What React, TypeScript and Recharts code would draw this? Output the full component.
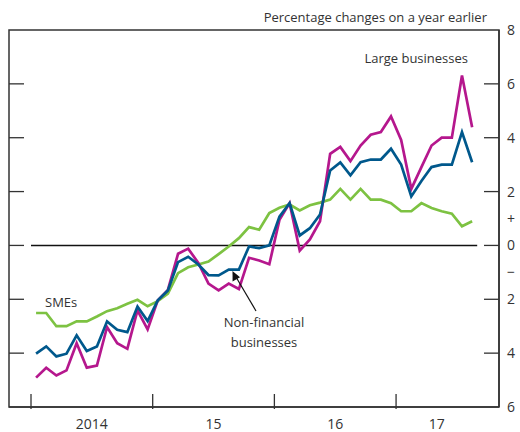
import { LineChart, Line, XAxis, YAxis, ReferenceLine, ReferenceArea } from 'recharts'

// monthly, Jan 2014 – Aug 2017 (percentage changes on a year earlier)
const months = [
	'2014-01', '2014-02', '2014-03', '2014-04', '2014-05', '2014-06', '2014-07', '2014-08', '2014-09', '2014-10', '2014-11', '2014-12',
	'2015-01', '2015-02', '2015-03', '2015-04', '2015-05', '2015-06', '2015-07', '2015-08', '2015-09', '2015-10', '2015-11', '2015-12',
	'2016-01', '2016-02', '2016-03', '2016-04', '2016-05', '2016-06', '2016-07', '2016-08', '2016-09', '2016-10', '2016-11', '2016-12',
	'2017-01', '2017-02', '2017-03', '2017-04', '2017-05', '2017-06', '2017-07', '2017-08',
]

const smes = [
	-2.51, -2.51, -3.0, -3.0, -2.82, -2.82, -2.64, -2.44, -2.33, -2.17, -2.02, -2.26,
	-2.07, -1.79, -1.03, -0.81, -0.71, -0.6, -0.32, -0.04, 0.27, 0.68, 0.58, 1.2,
	1.4, 1.52, 1.3, 1.49, 1.59, 1.7, 2.1, 1.7, 2.1, 1.7, 1.7, 1.57,
	1.27, 1.27, 1.57, 1.39, 1.27, 1.18, 0.71, 0.9,
]

const nonFinancial = [
	-4.02, -3.75, -4.12, -4.02, -3.34, -3.92, -3.75, -2.82, -3.13, -3.22, -2.27, -2.81,
	-2.04, -1.67, -0.62, -0.42, -0.71, -1.1, -1.11, -0.9, -0.9, -0.04, -0.1, 0.0,
	1.07, 1.57, 0.37, 0.64, 1.15, 2.78, 3.08, 2.6, 3.09, 3.19, 3.19, 3.59,
	3.0, 1.82, 2.39, 2.91, 3.0, 3.0, 4.21, 3.09,
]

const large = [
	-4.91, -4.54, -4.83, -4.64, -3.63, -4.54, -4.46, -3.03, -3.63, -3.84, -2.41, -3.12,
	-2.04, -1.65, -0.31, -0.12, -0.65, -1.42, -1.67, -1.42, -1.62, -0.46, -0.56, -0.7,
	0.95, 1.57, -0.19, 0.22, 0.9, 3.4, 3.66, 3.13, 3.71, 4.11, 4.21, 4.79,
	3.92, 2.1, 2.91, 3.71, 4.0, 4.0, 6.31, 4.39,
]

const yTicks = [8, 6, 4, 2, 1, 0, -1, -2, -4, -6]
const innerTicks = [6, 4, 2, 0, -2, -4]
const yearBounds = [0, 12, 24, 36]
const yearLabels = [
	{ at: 6, text: '2014' },
	{ at: 18, text: '15' },
	{ at: 30, text: '16' },
	{ at: 40, text: '17' },
]

const data = months.map((m, i) => ({
	month: m,
	t: i + 0.5,
	smes: smes[i],
	nonFinancial: nonFinancial[i],
	large: large[i],
}))

const FONT = "'Open Sans', sans-serif"
const INK = '#333333'
const GREEN = '#7dc242'
const BLUE = '#00588c'
const MAGENTA = '#b5178d'
const X_MIN = -2.17
const X_MAX = 46.15
const TICK_MONTHS = 1.48 // inward tick length, ~15px

const formatY = (v: number) => (v === 1 ? '+' : v === -1 ? '\u2212' : String(Math.abs(v)))

const RightTick = (props: any) => {
	const { x, y, payload } = props
	return (
		<text x={x + 8} y={y} dy='0.36em' textAnchor='start' fill={INK} fontSize={14} fontFamily={FONT}>
			{formatY(Number(payload.value))}
		</text>
	)
}

const BottomTick = (props: any) => {
	const { x, y, payload } = props
	const v = Number(payload.value)
	if (yearBounds.includes(v)) {
		return <line x1={x} x2={x} y1={y} y2={y - 15} stroke={INK} strokeWidth={1.3} />
	}
	const lab = yearLabels.find(l => l.at === v)
	return (
		<text x={x} y={y + 20} textAnchor='middle' fill={INK} fontSize={14} fontFamily={FONT}>
			{lab ? lab.text : ''}
		</text>
	)
}

const App = () => {
	return (
		<div style={{ position: 'absolute', left: 0, top: 0, width: 520, height: 432, background: '#fff' }}>
			<LineChart width={520} height={432} data={data} margin={{ top: 30, right: 0, bottom: 0, left: 9 }}>
				<XAxis
					dataKey='t'
					type='number'
					domain={[X_MIN, X_MAX]}
					ticks={[0, 6, 12, 18, 24, 30, 36, 40]}
					interval={0}
					tick={<BottomTick />}
					tickLine={false}
					tickSize={0}
					axisLine={{ stroke: INK, strokeWidth: 1.5 }}
					height={25}
					allowDataOverflow
				/>
				<YAxis
					orientation='right'
					type='number'
					domain={[-6, 8]}
					ticks={yTicks}
					interval={0}
					tick={<RightTick />}
					tickLine={false}
					tickSize={0}
					tickMargin={0}
					axisLine={{ stroke: INK, strokeWidth: 1.5 }}
					width={21}
				/>
				<ReferenceArea x1={X_MIN} x2={X_MAX} y1={-6} y2={8} fill='none' stroke={INK} strokeWidth={1.5} />
				{innerTicks.map(v => (
					<ReferenceLine
						key={'l' + v}
						segment={[{ x: X_MIN, y: v }, { x: X_MIN + TICK_MONTHS, y: v }]}
						stroke={INK}
						strokeWidth={1.3}
					/>
				))}
				{innerTicks.map(v => (
					<ReferenceLine
						key={'r' + v}
						segment={[{ x: X_MAX - TICK_MONTHS, y: v }, { x: X_MAX, y: v }]}
						stroke={INK}
						strokeWidth={1.3}
					/>
				))}
				<ReferenceLine segment={[{ x: 0, y: 0 }, { x: 44, y: 0 }]} stroke='#111' strokeWidth={1.5} />
				<Line dataKey='smes' stroke={GREEN} strokeWidth={2.7} dot={false} isAnimationActive={false} />
				<Line dataKey='large' stroke={MAGENTA} strokeWidth={2.7} dot={false} isAnimationActive={false} />
				<Line dataKey='nonFinancial' stroke={BLUE} strokeWidth={2.7} dot={false} isAnimationActive={false} />
			</LineChart>
			<svg width={520} height={432} style={{ position: 'absolute', left: 0, top: 0, pointerEvents: 'none' }}>
				<text x={487} y={22} textAnchor='end' fill={INK} fontSize={13} fontFamily={FONT}>
					Percentage changes on a year earlier
				</text>
				<text x={468} y={63} textAnchor='end' fill={INK} fontSize={13} fontFamily={FONT}>
					Large businesses
				</text>
				<text x={45} y={307} textAnchor='start' fill={INK} fontSize={13} fontFamily={FONT}>
					SMEs
				</text>
				<text x={264} y={327} textAnchor='middle' fill={INK} fontSize={13} fontFamily={FONT}>
					Non-financial
				</text>
				<text x={264} y={347} textAnchor='middle' fill={INK} fontSize={13} fontFamily={FONT}>
					businesses
				</text>
				<line x1={256} y1={311} x2={236} y2={277} stroke='#111' strokeWidth={1.2} />
				<polygon points='232.5,271 232.6,281.5 240,277.2' fill='#111' />
			</svg>
		</div>
	)
}

export default App
